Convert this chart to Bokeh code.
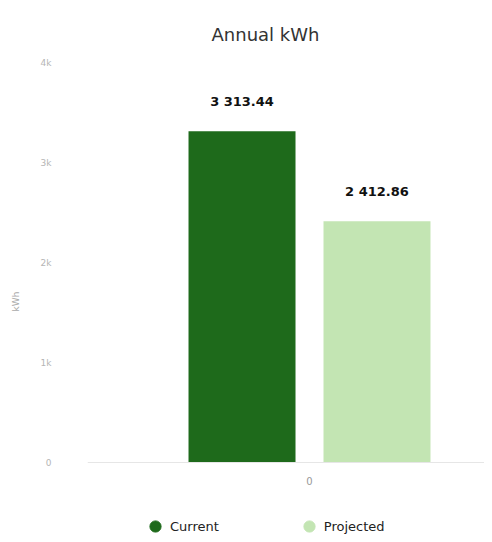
from bokeh.plotting import figure
from bokeh.models import ColumnDataSource, FixedTicker, Legend, LegendItem, LabelSet, Range1d
from bokeh.core.properties import value
from bokeh.embed import file_html
from bokeh.resources import INLINE

categories = ["0"]
current = [3313.44]
projected = [2412.86]
series_names = ["Current", "Projected"]
y_ticks = [0, 1000, 2000, 3000, 4000]
y_tick_labels = ["0", "1k", "2k", "3k", "4k"]

def fmt(v):
    return f"{v:,.2f}".replace(",", " ")

OFF = 0.17
BAR_W = 0.2695
xc = [i + 0.5 for i in range(len(categories))]

source = ColumnDataSource(data=dict(
    xc=xc,
    x_cur=[x - OFF for x in xc],
    x_pro=[x + OFF for x in xc],
    current=current,
    projected=projected,
    current_lbl=[fmt(v) for v in current],
    projected_lbl=[fmt(v) for v in projected],
))

FONT = "DejaVu Sans"

# frame extends below the zero line to leave room for the legend
p = figure(frame_width=397, frame_height=478, output_backend="svg", toolbar_location=None,
           x_range=Range1d(-0.0592, 0.9408),
           y_range=Range1d(-780, 4000),
           min_border_left=87, min_border_right=0, min_border_top=62, min_border_bottom=0,
           title="Annual kWh")
p.title.align = "left"
p.title.offset = 124
p.title.text_font = FONT
p.title.text_font_size = "18px"
p.title.text_font_style = "normal"
p.title.text_color = "#333333"
p.title.standoff = 36

colors = ["#1e6a1b", "#c3e5b3"]
r1 = p.vbar(x="x_cur", top="current", width=BAR_W,
            source=source, color=colors[0], line_color=None)
r2 = p.vbar(x="x_pro", top="projected", width=BAR_W,
            source=source, color=colors[1], line_color=None)

# zero-size markers so the legend shows round swatches
m1 = p.scatter(x="x_cur", y="current", size=0, marker="circle",
               source=source, fill_color=colors[0], line_color=colors[0])
m2 = p.scatter(x="x_pro", y="projected", size=0, marker="circle",
               source=source, fill_color=colors[1], line_color=colors[1])

for col, xcol in (("current", "x_cur"), ("projected", "x_pro")):
    p.add_layout(LabelSet(x=xcol, y=col, text=col + "_lbl",
                          source=source, text_align="center", text_baseline="bottom",
                          y_offset=22, text_font=value(FONT), text_font_size="13px",
                          text_font_style="bold", text_color="#111111"))

p.outline_line_color = None
p.xgrid.grid_line_color = None
p.ygrid.grid_line_color = None

p.yaxis.ticker = FixedTicker(ticks=y_ticks)
p.yaxis.major_label_overrides = {t: l for t, l in zip(y_ticks, y_tick_labels)}
p.yaxis.axis_line_color = None
p.yaxis.major_tick_line_color = None
p.yaxis.minor_tick_line_color = None
p.yaxis.major_label_text_font = FONT
p.yaxis.major_label_text_font_size = "9px"
p.yaxis.major_label_text_color = "#b5b5b5"
p.yaxis.major_label_standoff = 30
p.yaxis.axis_label = "kWh"
p.yaxis.axis_label_text_font = FONT
p.yaxis.axis_label_text_font_size = "9px"
p.yaxis.axis_label_text_font_style = "normal"
p.yaxis.axis_label_text_color = "#aaaaaa"
p.yaxis.axis_label_standoff = 17

p.xaxis.fixed_location = 0
p.xaxis.ticker = FixedTicker(ticks=xc)
p.xaxis.major_label_overrides = {x: c for x, c in zip(xc, categories)}
p.xaxis.axis_line_color = "#e6e6e6"
p.xaxis.major_tick_line_color = None
p.xaxis.minor_tick_line_color = None
p.xaxis.major_label_text_font = FONT
p.xaxis.major_label_text_font_size = "10px"
p.xaxis.major_label_text_color = "#999999"
p.xaxis.major_label_standoff = 8

legend = Legend(items=[LegendItem(label=series_names[0], renderers=[m1]),
                       LegendItem(label=series_names[1], renderers=[m2])],
                orientation="horizontal", location=(54, 0))
legend.label_text_font = FONT
legend.label_text_font_size = "13px"
legend.label_text_color = "#222222"
legend.glyph_width = 28
legend.glyph_height = 28
legend.spacing = 76
legend.padding = 0
legend.label_standoff = 1
legend.border_line_color = None
legend.background_fill_alpha = 0
legend.margin = 0
p.add_layout(legend, "center")

open("out.html", "w").write(file_html(p, INLINE))
